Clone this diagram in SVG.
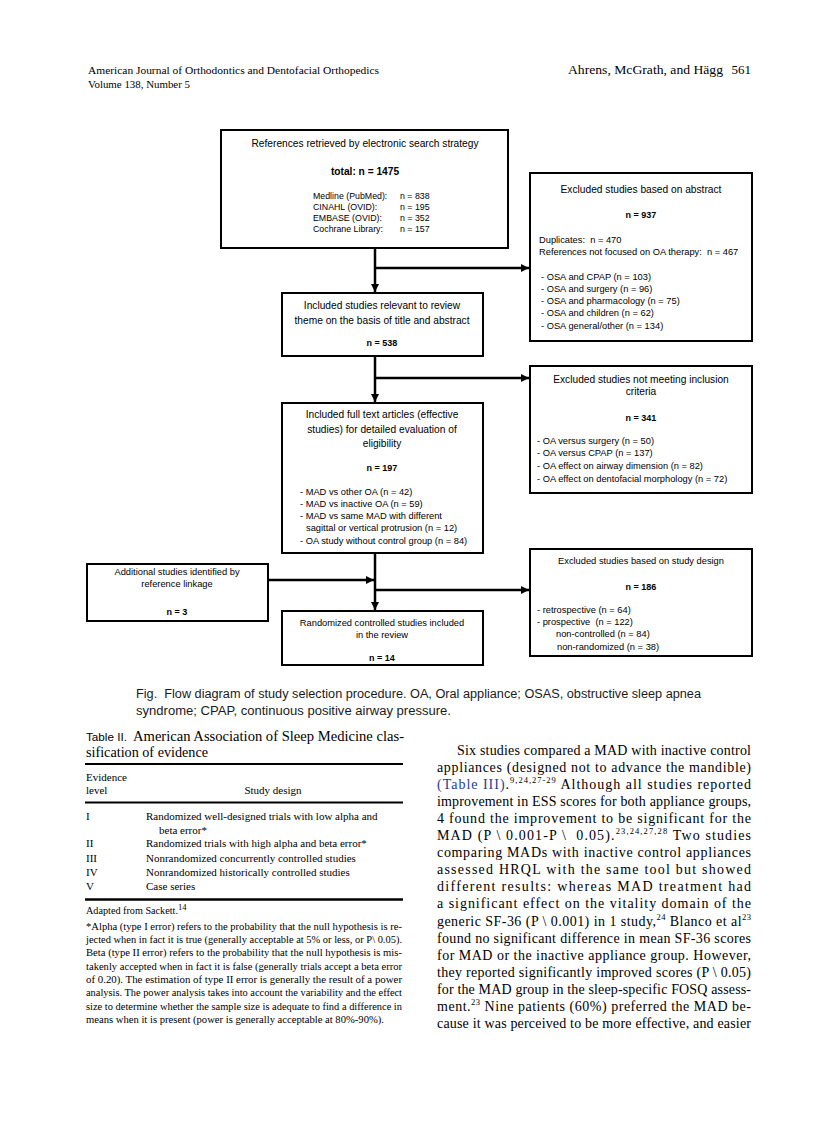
<svg xmlns="http://www.w3.org/2000/svg" width="838" height="1122" viewBox="0 0 838 1122">
<defs>
<style>
.bg{fill:#fff}
.box{fill:#fff;stroke:#000;stroke-width:2}
.conn{stroke:#000;stroke-width:2.5;fill:none}
.t{font-family:"Liberation Sans",Arial,sans-serif;font-size:10.2px;fill:#000}
.s{font-size:9.3px}
.m{font-size:8.8px}
.c{text-anchor:middle}
.b{font-weight:bold}
.nb{font-weight:bold;font-size:9px}
.hd{font-family:"Liberation Serif","Times New Roman",serif;fill:#000}
.cap{font-family:"Liberation Sans",Arial,sans-serif;font-size:12px;fill:#1a1a1a}
.sr{font-family:"Liberation Serif","Times New Roman",serif;fill:#000}
.body{font-size:14px}
.tb{font-size:11px}
.fn{font-size:10.2px}
.sup{font-size:8.5px}
.rule{stroke:#000;fill:none}
</style>
<marker id="arr" viewBox="0 0 8 8" refX="8" refY="4" markerWidth="8" markerHeight="8" markerUnits="userSpaceOnUse" orient="auto">
<path d="M0,0 L8,4 L0,8 z" fill="#000"/>
</marker>
</defs>
<rect class="bg" x="0" y="0" width="838" height="1122"/>

<!-- header -->
<g id="header">
<text class="hd" x="88" y="74" font-size="11" textLength="291" lengthAdjust="spacingAndGlyphs">American Journal of Orthodontics and Dentofacial Orthopedics</text>
<text class="hd" x="88" y="88" font-size="11" textLength="102" lengthAdjust="spacingAndGlyphs">Volume 138, Number 5</text>
<text class="hd" x="568" y="74" font-size="13" textLength="155" lengthAdjust="spacingAndGlyphs">Ahrens, McGrath, and Hägg</text>
<text class="hd" x="751" y="74" font-size="13" text-anchor="end">561</text>
</g>

<!-- connectors -->
<g id="connectors">
<path class="conn" d="M375,248 L375,292" marker-end="url(#arr)"/>
<path class="conn" d="M375,268 L529,268" marker-end="url(#arr)"/>
<path class="conn" d="M375,356 L375,402" marker-end="url(#arr)"/>
<path class="conn" d="M375,378 L529,378" marker-end="url(#arr)"/>
<path class="conn" d="M375,553 L375,610" marker-end="url(#arr)"/>
<path class="conn" d="M375,590 L529,590" marker-end="url(#arr)"/>
<path class="conn" d="M268,580 L374,580" marker-end="url(#arr)"/>
</g>

<!-- node: references retrieved -->
<g id="n-search">
<rect class="box" x="221" y="130" width="287" height="118"/>
<text class="t c" x="365" y="146.5">References retrieved by electronic search strategy</text>
<text class="t c b" x="365" y="174.5">total: n = 1475</text>
<text class="t m" x="313" y="198.5">Medline (PubMed):</text>
<text class="t m" x="400" y="198.5">n = 838</text>
<text class="t m" x="313" y="209.5">CINAHL (OVID):</text>
<text class="t m" x="400" y="209.5">n = 195</text>
<text class="t m" x="313" y="220.5">EMBASE (OVID):</text>
<text class="t m" x="400" y="220.5">n = 352</text>
<text class="t m" x="313" y="231.5">Cochrane Library:</text>
<text class="t m" x="400" y="231.5">n = 157</text>
</g>

<!-- node: excluded abstract -->
<g id="n-excl-abstract">
<rect class="box" x="530" y="173" width="222" height="168"/>
<text class="t c" x="641" y="192.5">Excluded studies based on abstract</text>
<text class="t c nb" x="641" y="217.5">n = 937</text>
<text class="t s" x="539" y="243" xml:space="preserve">Duplicates:  n = 470</text>
<text class="t s" x="539" y="255" xml:space="preserve">References not focused on OA therapy:  n = 467</text>
<text class="t s" x="541" y="279.5">- OSA and CPAP (n = 103)</text>
<text class="t s" x="541" y="291.5">- OSA and surgery (n = 96)</text>
<text class="t s" x="541" y="303.5">- OSA and pharmacology (n = 75)</text>
<text class="t s" x="541" y="316">- OSA and children (n = 62)</text>
<text class="t s" x="541" y="328.5">- OSA general/other (n = 134)</text>
</g>

<!-- node: included relevant -->
<g id="n-included-relevant">
<rect class="box" x="282" y="293" width="201" height="63"/>
<text class="t c" x="382" y="308.5">Included studies relevant to review</text>
<text class="t c" x="382" y="323.5">theme on the basis of title and abstract</text>
<text class="t c nb" x="382" y="346">n = 538</text>
</g>

<!-- node: excluded inclusion criteria -->
<g id="n-excl-criteria">
<rect class="box" x="530" y="366" width="222" height="127"/>
<text class="t c" x="641" y="382.5">Excluded studies not meeting inclusion</text>
<text class="t c" x="641" y="394.5">criteria</text>
<text class="t c nb" x="641" y="420.5">n = 341</text>
<text class="t s" x="537" y="443.5">- OA versus surgery (n = 50)</text>
<text class="t s" x="537" y="455.5">- OA versus CPAP (n = 137)</text>
<text class="t s" x="537" y="468.5">- OA effect on airway dimension (n = 82)</text>
<text class="t s" x="537" y="481.5">- OA effect on dentofacial morphology (n = 72)</text>
</g>

<!-- node: full text -->
<g id="n-full-text">
<rect class="box" x="282" y="403" width="201" height="150"/>
<text class="t c" x="382" y="417.5">Included full text articles (effective</text>
<text class="t c" x="382" y="432.5">studies) for detailed evaluation of</text>
<text class="t c" x="382" y="446.5">eligibility</text>
<text class="t c nb" x="382" y="470.5">n = 197</text>
<text class="t s" x="300" y="494.5">- MAD vs other OA (n = 42)</text>
<text class="t s" x="300" y="506.5">- MAD vs inactive OA (n = 59)</text>
<text class="t s" x="300" y="518.5">- MAD vs same MAD with different</text>
<text class="t s" x="306" y="530.5">sagittal or vertical protrusion (n = 12)</text>
<text class="t s" x="300" y="543.5">- OA study without control group (n = 84)</text>
</g>

<!-- node: additional studies -->
<g id="n-additional">
<rect class="box" x="87" y="564" width="181" height="57"/>
<text class="t c s" x="177" y="574.5">Additional studies identified by</text>
<text class="t c s" x="177" y="586.5">reference linkage</text>
<text class="t c nb" x="177" y="614.5">n = 3</text>
</g>

<!-- node: excluded study design -->
<g id="n-excl-design">
<rect class="box" x="530" y="549" width="222" height="107"/>
<text class="t c s" x="641" y="563.5">Excluded studies based on study design</text>
<text class="t c nb" x="641" y="589.5">n = 186</text>
<text class="t s" x="537" y="612.5">- retrospective (n = 64)</text>
<text class="t s" x="537" y="624.5" xml:space="preserve">- prospective  (n = 122)</text>
<text class="t s" x="556" y="636.5">non-controlled (n = 84)</text>
<text class="t s" x="557" y="649.5">non-randomized (n = 38)</text>
</g>

<!-- node: randomized -->
<g id="n-randomized">
<rect class="box" x="282" y="611" width="201" height="54"/>
<text class="t c s" x="382" y="625.5">Randomized controlled studies included</text>
<text class="t c s" x="382" y="637.5">in the review</text>
<text class="t c nb" x="382" y="660.5">n = 14</text>
</g>

<!-- caption -->
<g id="caption">
<text class="cap" x="136" y="698" textLength="565" lengthAdjust="spacingAndGlyphs" xml:space="preserve">Fig.  Flow diagram of study selection procedure. OA, Oral appliance; OSAS, obstructive sleep apnea</text>
<text class="cap" x="136" y="715" textLength="315" lengthAdjust="spacingAndGlyphs">syndrome; CPAP, continuous positive airway pressure.</text>
</g>

<!-- table -->
<g id="table">
<text class="t" x="86" y="741" font-size="11.5" textLength="41" lengthAdjust="spacingAndGlyphs">Table II.</text>
<text class="sr" x="133" y="741" font-size="14.5" textLength="271" lengthAdjust="spacingAndGlyphs">American Association of Sleep Medicine clas-</text>
<text class="sr" x="86" y="757" font-size="14.5" textLength="122" lengthAdjust="spacingAndGlyphs">sification of evidence</text>
<line class="rule" x1="85" y1="764" x2="403" y2="764" stroke-width="2.2"/>
<text class="sr tb" x="86" y="780.5">Evidence</text>
<text class="sr tb" x="86" y="793.5">level</text>
<text class="sr tb" x="273" y="793.5" text-anchor="middle">Study design</text>
<line class="rule" x1="85" y1="802.5" x2="403" y2="802.5" stroke-width="2.2"/>
<text class="sr tb" x="86" y="819.5">I</text>
<text class="sr tb" x="146" y="819.5">Randomized well-designed trials with low alpha and</text>
<text class="sr tb" x="159" y="833.5">beta error*</text>
<text class="sr tb" x="86" y="846.5">II</text>
<text class="sr tb" x="146" y="846.5">Randomized trials with high alpha and beta error*</text>
<text class="sr tb" x="86" y="861.5">III</text>
<text class="sr tb" x="146" y="861.5">Nonrandomized concurrently controlled studies</text>
<text class="sr tb" x="86" y="875.5">IV</text>
<text class="sr tb" x="146" y="875.5">Nonrandomized historically controlled studies</text>
<text class="sr tb" x="86" y="890">V</text>
<text class="sr tb" x="146" y="890">Case series</text>
<line class="rule" x1="85" y1="899.5" x2="403" y2="899.5" stroke-width="2.5"/>
<text class="sr fn" x="86" y="913.5">Adapted from Sackett.<tspan class="sup" dy="-4">14</tspan></text>
<text class="sr fn" x="86" y="929.8" textLength="316" lengthAdjust="spacingAndGlyphs">*Alpha (type I error) refers to the probability that the null hypothesis is re-</text>
<text class="sr fn" x="86" y="943.1" textLength="316" lengthAdjust="spacingAndGlyphs">jected when in fact it is true (generally acceptable at 5% or less, or P\ 0.05).</text>
<text class="sr fn" x="86" y="956.4" textLength="316" lengthAdjust="spacingAndGlyphs">Beta (type II error) refers to the probability that the null hypothesis is mis-</text>
<text class="sr fn" x="86" y="969.7" textLength="316" lengthAdjust="spacingAndGlyphs">takenly accepted when in fact it is false (generally trials accept a beta error</text>
<text class="sr fn" x="86" y="983" textLength="316" lengthAdjust="spacingAndGlyphs">of 0.20). The estimation of type II error is generally the result of a power</text>
<text class="sr fn" x="86" y="996.3" textLength="316" lengthAdjust="spacingAndGlyphs">analysis. The power analysis takes into account the variability and the effect</text>
<text class="sr fn" x="86" y="1009.6" textLength="316" lengthAdjust="spacingAndGlyphs">size to determine whether the sample size is adequate to find a difference in</text>
<text class="sr fn" x="86" y="1022.9" textLength="298" lengthAdjust="spacingAndGlyphs">means when it is present (power is generally acceptable at 80%-90%).</text>
</g>

<!-- body text -->
<g id="body-text">
<text class="sr body" x="457" y="754.5" textLength="294" lengthAdjust="spacing">Six studies compared a MAD with inactive control</text>
<text class="sr body" x="437" y="771.5" textLength="314" lengthAdjust="spacing">appliances (designed not to advance the mandible)</text>
<text class="sr body" x="437" y="788.5" textLength="314" lengthAdjust="spacing"><tspan fill="#23408e">(Table III)</tspan>.<tspan class="sup" dy="-6">9,24,27-29</tspan><tspan dy="6"> Although all studies reported</tspan></text>
<text class="sr body" x="437" y="806" textLength="314" lengthAdjust="spacing">improvement in ESS scores for both appliance groups,</text>
<text class="sr body" x="437" y="823" textLength="314" lengthAdjust="spacing">4 found the improvement to be significant for the</text>
<text class="sr body" x="437" y="840" textLength="314" lengthAdjust="spacing" xml:space="preserve">MAD (P \ 0.001-P \  0.05).<tspan class="sup" dy="-6">23,24,27,28</tspan><tspan dy="6"> Two studies</tspan></text>
<text class="sr body" x="437" y="857" textLength="314" lengthAdjust="spacing">comparing MADs with inactive control appliances</text>
<text class="sr body" x="437" y="874" textLength="314" lengthAdjust="spacing">assessed HRQL with the same tool but showed</text>
<text class="sr body" x="437" y="891" textLength="314" lengthAdjust="spacing">different results: whereas MAD treatment had</text>
<text class="sr body" x="437" y="908" textLength="314" lengthAdjust="spacing">a significant effect on the vitality domain of the</text>
<text class="sr body" x="437" y="925.5" textLength="314" lengthAdjust="spacing">generic SF-36 (P \ 0.001) in 1 study,<tspan class="sup" dy="-6">24</tspan><tspan dy="6"> Blanco et al</tspan><tspan class="sup" dy="-6">23</tspan></text>
<text class="sr body" x="437" y="942.5" textLength="314" lengthAdjust="spacing">found no significant difference in mean SF-36 scores</text>
<text class="sr body" x="437" y="960" textLength="314" lengthAdjust="spacing">for MAD or the inactive appliance group. However,</text>
<text class="sr body" x="437" y="977" textLength="314" lengthAdjust="spacing">they reported significantly improved scores (P \ 0.05)</text>
<text class="sr body" x="437" y="994" textLength="314" lengthAdjust="spacing">for the MAD group in the sleep-specific FOSQ assess-</text>
<text class="sr body" x="437" y="1011" textLength="314" lengthAdjust="spacing">ment.<tspan class="sup" dy="-6">23</tspan><tspan dy="6"> Nine patients (60%) preferred the MAD be-</tspan></text>
<text class="sr body" x="437" y="1028" textLength="314" lengthAdjust="spacing">cause it was perceived to be more effective, and easier</text>
</g>
</svg>
